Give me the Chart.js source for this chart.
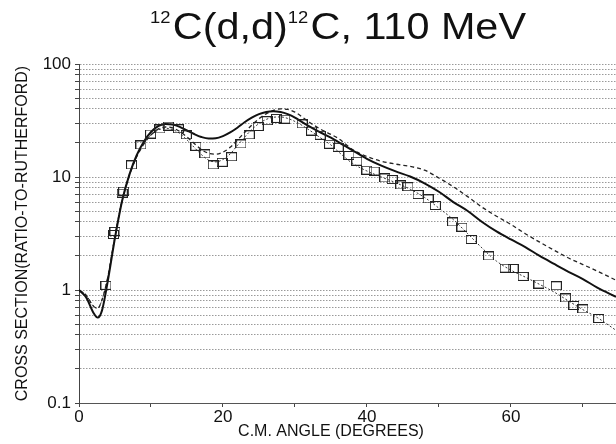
<!DOCTYPE html>
<html><head><meta charset="utf-8">
<script src="https://cdn.jsdelivr.net/npm/chart.js@4/dist/chart.umd.min.js"></script>
<style>html,body{margin:0;padding:0;background:#fff;}#c{display:block;}</style>
</head><body>
<canvas id="c" width="616" height="444"></canvas>
<script>
// ---- data ----
const expAngles = [3.75, 4.8, 5.0, 6.0, 6.2, 7.3, 8.6, 9.95, 11.25, 12.4, 13.8, 14.9, 16.25, 17.5, 18.65, 19.9, 21.2, 22.5, 23.65, 24.9, 26.15, 27.45, 28.6, 31.0, 32.3, 33.5, 34.8, 36.0, 37.5, 38.6, 40.0, 41.0, 42.5, 43.5, 44.7, 45.7, 47.1, 48.5, 49.5, 51.9, 53.2, 54.5, 56.9, 59.2, 60.3, 61.7, 63.9, 66.3, 67.6, 68.75, 70.0, 72.2];
const expValues = [1.1, 3.1, 3.3, 7.2, 7.5, 12.8, 19.2, 24, 26.6, 28.2, 26.7, 23.6, 18.7, 16, 12.8, 13.5, 15.1, 19.6, 23.6, 28, 31.5, 33, 32.5, 29.5, 25.5, 23.4, 19.5, 18.3, 15.5, 13.8, 11.5, 11.3, 9.8, 9.5, 8.5, 8.2, 7.0, 6.4, 5.6, 4.0, 3.6, 2.8, 2.0, 1.56, 1.55, 1.32, 1.13, 1.09, 0.85, 0.73, 0.68, 0.56];

const curveAngles = [0, 1, 2, 2.6, 3.2, 4, 5, 6, 7, 8, 9, 10, 11, 12, 13, 14, 15, 16, 17, 18, 19, 20, 21, 22, 23, 24, 25, 26, 27, 28, 29, 30, 31, 32, 33, 34, 35, 36, 38, 40, 42, 44, 46, 48, 50, 52, 54, 56, 58, 60, 62, 64, 66, 68, 70, 72, 74.6];
const solidValues = [1.0, 0.86, 0.63, 0.57, 0.66, 1.2, 2.9, 6.2, 10.5, 15.5, 20.5, 25, 28.2, 29.5, 29.2, 27.8, 25.8, 24, 22.6, 21.9, 22, 23, 24.8, 27.3, 30.5, 33.5, 36, 37.6, 38.2, 37.6, 36, 33.6, 30.6, 28, 25.8, 24, 22.3, 20.5, 17.2, 14.5, 12.6, 11.2, 10.1, 8.8, 7.4, 6.0, 5.0, 4.0, 3.3, 2.8, 2.4, 2.0, 1.7, 1.45, 1.25, 1.05, 0.87];
const dashedValues = [1.0, 0.9, 0.72, 0.69, 0.82, 1.3, 3.0, 6.2, 10.3, 15, 19.5, 23.5, 26.5, 27.7, 27.2, 25.3, 22.6, 19.8, 17.5, 16.2, 15.9, 16.6, 18.3, 21.2, 24.8, 28.8, 32.8, 36.2, 38.8, 40, 39.6, 37.5, 34, 30.5, 27.8, 25.6, 23.8, 22, 17.5, 15.2, 13.8, 13, 12.4, 11.5, 9.8, 8.2, 6.7, 5.4, 4.5, 3.8, 3.15, 2.65, 2.25, 1.92, 1.68, 1.47, 1.22];
const dottedValues = [1.0, 0.9, 0.72, 0.69, 0.82, 1.3, 3.0, 6.3, 10.5, 15.3, 19.8, 23.5, 26, 27, 26.3, 24.3, 21.3, 18.3, 15.8, 14.1, 13.6, 14.3, 16, 19, 22.5, 26.3, 29.7, 32.3, 33.8, 34, 33, 31, 28.6, 26, 23.5, 21.2, 19.2, 16.8, 13.2, 11.3, 10.0, 8.9, 7.8, 6.6, 5.3, 4.2, 3.15, 2.35, 1.8, 1.5, 1.3, 1.12, 0.96, 0.8, 0.67, 0.57, 0.44];

const yGridValues = [0.1,0.2,0.3,0.4,0.5,0.6,0.7,0.8,0.9,1,2,3,4,5,6,7,8,9,10,20,30,40,50,60,70,80,90,100];
const yMajorValues = [0.1, 1, 10, 100];
const yTickLabels = ['0.1', '1', '10', '100'];
const xTickValues = [0, 20, 40, 60];
const xTickLabels = ['0', '20', '40', '60'];

const titleNucleus = '12';
const titleMain1 = 'C(d,d)';
const titleMain2 = 'C, 110 MeV';
const xTitle = 'C.M. ANGLE (DEGREES)';
const yTitle = 'CROSS SECTION(RATIO-TO-RUTHERFORD)';

// ---- styles ----
const FAM = '"Liberation Sans", Arial, Helvetica, sans-serif';
Chart.defaults.font.family = FAM;
Chart.defaults.color = '#111';

const box = document.createElement('canvas');
box.width = 11; box.height = 9;
(function(){ const g = box.getContext('2d'); g.strokeStyle = '#222'; g.lineWidth = 1; g.strokeRect(0.5, 0.5, 10, 8); })();

const pts = (xs, ys) => xs.map((x, i) => ({x: x, y: ys[i]}));

const textPlugin = {
  id: 'texts',
  afterDraw(chart) {
    const ctx = chart.ctx;
    ctx.save();
    const big = '36px ' + FAM, small = '16px ' + FAM;
    const parts = [
      {t: titleNucleus, f: small, y: 23, gap: 2},
      {t: titleMain1, f: big, y: 39, gap: 0},
      {t: titleNucleus, f: small, y: 23, gap: 2},
      {t: titleMain2, f: big, y: 39, gap: 0}
    ];
    let w = 0;
    parts.forEach(p => { ctx.font = p.f; p.w = ctx.measureText(p.t).width; w += p.w + p.gap; });
    const x0 = 150, x1 = 526;
    const sx = (x1 - x0) / w;
    ctx.translate(x0, 0);
    ctx.scale(sx, 1);
    ctx.fillStyle = '#111';
    ctx.textBaseline = 'alphabetic';
    ctx.textAlign = 'left';
    let x = 0;
    parts.forEach(p => { ctx.font = p.f; ctx.fillText(p.t, x, p.y); x += p.w + p.gap; });
    ctx.restore();
    // x-axis title
    ctx.save();
    ctx.font = '16px ' + FAM;
    ctx.fillStyle = '#111';
    ctx.textAlign = 'center';
    ctx.textBaseline = 'middle';
    ctx.fillText(xTitle, 331, 432);
    ctx.restore();
  }
};

new Chart(document.getElementById('c'), {
  type: 'scatter',
  data: {
    datasets: [
      { data: pts(expAngles, expValues), showLine: false, pointStyle: box, pointRadius: 5, borderColor: '#222', backgroundColor: 'rgba(0,0,0,0)' },
      { data: pts(curveAngles, solidValues), showLine: true, pointRadius: 0, borderColor: '#111', borderWidth: 2, cubicInterpolationMode: 'monotone' },
      { data: pts(curveAngles, dashedValues), showLine: true, pointRadius: 0, borderColor: '#222', borderWidth: 1.3, borderDash: [4, 3], cubicInterpolationMode: 'monotone' },
      { data: pts(curveAngles, dottedValues), showLine: true, pointRadius: 0, borderColor: '#333', borderWidth: 1, borderDash: [2, 2], cubicInterpolationMode: 'monotone' }
    ]
  },
  options: {
    responsive: false,
    animation: false,
    devicePixelRatio: 1,
    layout: { autoPadding: false, padding: { top: 64, right: 0, bottom: 0, left: 0 } },
    plugins: { legend: { display: false }, tooltip: { enabled: false } },
    scales: {
      x: {
        type: 'linear', min: 0, max: 74.6,
        afterFit: s => { s.height = 41; },
        ticks: { stepSize: 10, includeBounds: false, autoSkip: false, maxRotation: 0, padding: 0, font: { size: 17 }, color: '#111',
          callback: v => { const i = xTickValues.indexOf(v); return i >= 0 ? xTickLabels[i] : ''; } },
        grid: { drawOnChartArea: false, drawTicks: true, tickLength: 4, tickColor: '#444' },
        border: { display: true, color: '#555', width: 1 },
        title: { display: false }
      },
      y: {
        type: 'logarithmic', min: 0.1, max: 100,
        afterFit: s => { s.width = 79; },
        afterBuildTicks: s => { s.ticks = yGridValues.map(v => ({ value: v })); },
        ticks: { autoSkip: false, padding: 4, font: { size: 17 }, color: '#111',
          callback: v => { const i = yMajorValues.findIndex(m => Math.abs(m - v) < 1e-9); return i >= 0 ? yTickLabels[i] : ''; } },
        grid: { color: '#9a9a9a', lineWidth: 1, tickLength: 4, tickColor: '#444', tickBorderDash: [] },
        border: { display: true, color: '#444', width: 1, dash: [1.5, 1.5] },
        title: { display: true, text: yTitle, font: { size: 16 }, color: '#111', padding: { top: 13, bottom: 10 } }
      }
    }
  },
  plugins: [textPlugin]
});
</script>
</body></html>
